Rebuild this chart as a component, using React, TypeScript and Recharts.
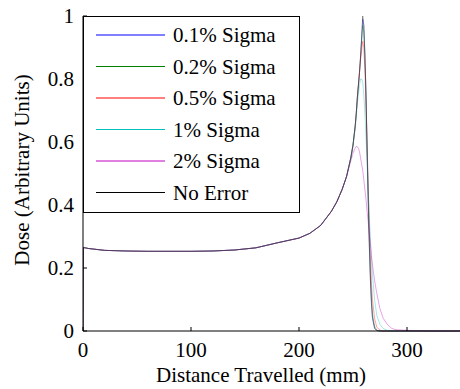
import React from "react";
import { LineChart, Line, XAxis, YAxis, Legend } from "recharts";

const distance = [0, 0.5, 5, 20, 40, 60, 80, 100, 120, 140, 160, 180, 200, 210, 220, 230, 235, 240, 244, 248, 250, 252, 253, 254, 255, 256, 257, 258, 259, 260, 261, 262, 263, 264, 265, 266, 267, 268, 270, 272, 275, 278, 282, 286, 290, 295, 300, 310, 320, 350];

const noError = [0, 0.265, 0.262, 0.256, 0.254, 0.253, 0.253, 0.253, 0.254, 0.257, 0.264, 0.28, 0.295, 0.31, 0.335, 0.38, 0.41, 0.45, 0.49, 0.55, 0.59, 0.65, 0.69, 0.74, 0.78, 0.82, 0.87, 0.93, 1.0, 0.97, 0.88, 0.75, 0.58, 0.42, 0.28, 0.17, 0.09, 0.04, 0.008, 0.001, 0, 0, 0, 0, 0, 0, 0, 0, 0, 0];
const sigma01 = [0, 0.265, 0.262, 0.256, 0.254, 0.253, 0.253, 0.253, 0.254, 0.257, 0.264, 0.28, 0.295, 0.31, 0.335, 0.38, 0.41, 0.45, 0.49, 0.55, 0.59, 0.65, 0.69, 0.74, 0.78, 0.82, 0.87, 0.93, 0.99, 0.97, 0.88, 0.76, 0.59, 0.43, 0.29, 0.18, 0.1, 0.045, 0.01, 0.002, 0, 0, 0, 0, 0, 0, 0, 0, 0, 0];
const sigma02 = [0, 0.265, 0.262, 0.256, 0.254, 0.253, 0.253, 0.253, 0.254, 0.257, 0.264, 0.28, 0.295, 0.31, 0.335, 0.38, 0.41, 0.45, 0.49, 0.55, 0.59, 0.65, 0.69, 0.74, 0.78, 0.82, 0.87, 0.92, 0.97, 0.95, 0.87, 0.76, 0.6, 0.45, 0.31, 0.2, 0.11, 0.055, 0.015, 0.003, 0, 0, 0, 0, 0, 0, 0, 0, 0, 0];
const sigma05 = [0, 0.265, 0.262, 0.256, 0.254, 0.253, 0.253, 0.253, 0.254, 0.257, 0.264, 0.28, 0.295, 0.31, 0.335, 0.38, 0.41, 0.45, 0.49, 0.55, 0.59, 0.65, 0.69, 0.74, 0.78, 0.82, 0.86, 0.89, 0.92, 0.9, 0.83, 0.72, 0.6, 0.47, 0.35, 0.25, 0.16, 0.1, 0.04, 0.012, 0.003, 0, 0, 0, 0, 0, 0, 0, 0, 0];
const sigma1 = [0, 0.265, 0.262, 0.256, 0.254, 0.253, 0.253, 0.253, 0.254, 0.257, 0.264, 0.28, 0.295, 0.31, 0.335, 0.38, 0.41, 0.45, 0.49, 0.55, 0.59, 0.64, 0.68, 0.72, 0.75, 0.78, 0.8, 0.8, 0.79, 0.75, 0.69, 0.62, 0.54, 0.45, 0.37, 0.3, 0.24, 0.18, 0.1, 0.05, 0.02, 0.008, 0.002, 0, 0, 0, 0, 0, 0, 0];
const sigma2 = [0, 0.265, 0.262, 0.256, 0.254, 0.253, 0.253, 0.253, 0.254, 0.257, 0.264, 0.28, 0.295, 0.31, 0.335, 0.38, 0.41, 0.45, 0.49, 0.54, 0.565, 0.58, 0.586, 0.585, 0.58, 0.57, 0.55, 0.53, 0.51, 0.48, 0.45, 0.42, 0.38, 0.35, 0.31, 0.28, 0.24, 0.21, 0.16, 0.12, 0.07, 0.04, 0.02, 0.008, 0.004, 0.003, 0.002, 0.001, 0, 0];

const xTicks = [0, 100, 200, 300];
const yTicks = [0, 0.2, 0.4, 0.6, 0.8, 1];
const seriesNames = ["0.1% Sigma", "0.2% Sigma", "0.5% Sigma", "1% Sigma", "2% Sigma", "No Error"];
const seriesKeys = ["s01", "s02", "s05", "s1", "s2", "none"];
const seriesColors = ["#0000ff", "#008000", "#ff0000", "#00bfbf", "#bf00bf", "#000000"];

const data = distance.map((x, i) => ({
  x,
  s01: sigma01[i],
  s02: sigma02[i],
  s05: sigma05[i],
  s1: sigma1[i],
  s2: sigma2[i],
  none: noError[i],
}));

const FONT = "'Times New Roman', 'Liberation Serif', 'DejaVu Serif', serif";
const textStyle = { fontFamily: FONT } as React.CSSProperties;

const XTick = (props: any) => {
  const { x, y, payload } = props;
  return (
    <g>
      <line x1={x} y1={y} x2={x} y2={y - 4} stroke="#000" strokeWidth={1} />
      <text x={x} y={y + 19} textAnchor="middle" dominantBaseline="central" style={textStyle} fontSize={21} fill="#000">
        {payload.value}
      </text>
    </g>
  );
};

const YTick = (props: any) => {
  const { x, y, payload } = props;
  return (
    <g>
      <line x1={x} y1={y} x2={x + 4} y2={y} stroke="#000" strokeWidth={1} />
      <text x={x - 9} y={y} textAnchor="end" dominantBaseline="central" style={textStyle} fontSize={21} fill="#000">
        {String(payload.value)}
      </text>
    </g>
  );
};

const LegendBox = () => (
  <svg width={218} height={198} style={{ display: "block" }}>
    <rect x={0.5} y={0.5} width={216} height={196} fill="#fff" stroke="#000" strokeWidth={1} />
    {seriesNames.map((name, i) => {
      const cy = 19 + i * 31.5;
      return (
        <g key={name}>
          <line x1={13} y1={cy} x2={82} y2={cy} stroke={seriesColors[i]} strokeWidth={1} />
          <text x={90} y={cy} dominantBaseline="central" style={textStyle} fontSize={21} fill="#000">
            {name}
          </text>
        </g>
      );
    })}
  </svg>
);

export default function App() {
  return (
    <div style={{ position: "absolute", left: 0, top: 0, width: 460, height: 389, overflow: "hidden", background: "#fff", fontFamily: FONT }}>
      <LineChart width={462} height={389} data={data} margin={{ top: 16, right: 1, bottom: 0, left: 0 }} style={{ fontFamily: FONT }}>
        <XAxis
          dataKey="x"
          type="number"
          domain={[0, 350]}
          ticks={xTicks}
          allowDataOverflow
          height={58}
          tickSize={0}
          tickMargin={0}
          tickLine={false}
          axisLine={{ stroke: "#000", strokeWidth: 1 }}
          tick={<XTick />}
          label={{
            content: () => (
              <text x={261} y={375} textAnchor="middle" dominantBaseline="central" style={textStyle} fontSize={21} fill="#000">
                Distance Travelled (mm)
              </text>
            ),
          }}
        />
        <YAxis
          type="number"
          domain={[0, 1]}
          ticks={yTicks}
          width={83}
          tickSize={0}
          tickMargin={0}
          tickLine={false}
          axisLine={{ stroke: "#000", strokeWidth: 1 }}
          tick={<YTick />}
          label={{
            content: () => (
              <text x={22} y={170} transform="rotate(-90 22 170)" textAnchor="middle" dominantBaseline="central" style={textStyle} fontSize={21} fill="#000">
                Dose (Arbitrary Units)
              </text>
            ),
          }}
        />
        {seriesKeys.map((k, i) => (
          <Line
            key={k}
            dataKey={k}
            name={seriesNames[i]}
            type="linear"
            stroke={seriesColors[i]}
            strokeWidth={0.8}
            strokeOpacity={0.45}
            dot={false}
            activeDot={false}
            isAnimationActive={false}
          />
        ))}
        <Legend
          layout="vertical"
          align="center"
          verticalAlign="middle"
          content={() => <LegendBox />}
          wrapperStyle={{ position: "absolute", left: 83, top: 16, width: 218, height: 198 }}
        />
      </LineChart>
    </div>
  );
}
